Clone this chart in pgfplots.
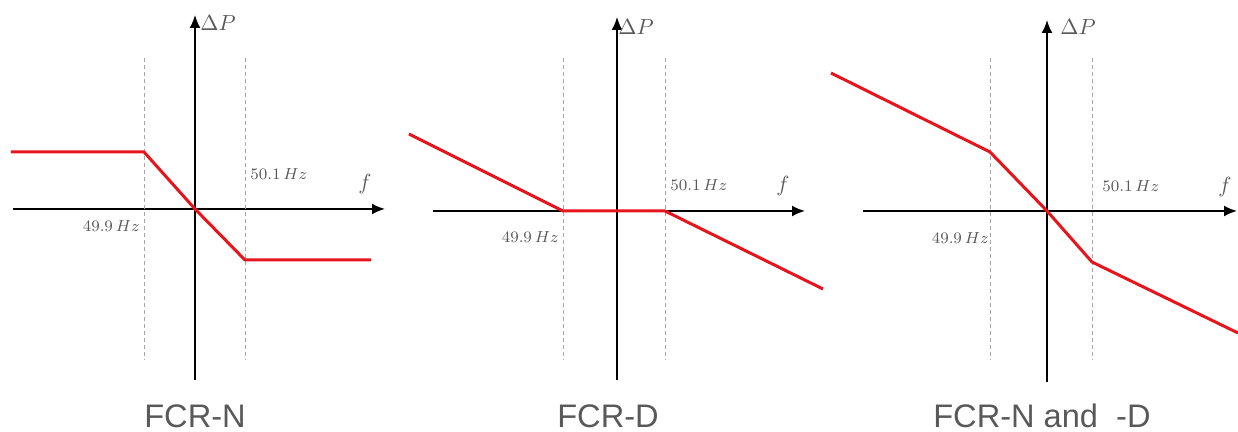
\documentclass[border=0pt]{standalone}
\usepackage{fontspec}
\setmainfont{Liberation Sans}
\usepackage{pgfplots}
\pgfplotsset{compat=1.18}
\usetikzlibrary{arrows.meta}

\definecolor{fcrred}{HTML}{E8141C}
\definecolor{txtgray}{HTML}{595959}
\definecolor{dashgray}{HTML}{A6A6A6}

% one pixel of the reference = 0.5pt; data are pixels relative to the origin
\pgfplotsset{
  fcr/.style={
    x=0.5pt, y=0.5pt,
    axis lines=middle,
    axis line style={line width=0.95pt, -{Latex[length=6.5pt,width=5.5pt]}},
    xtick=\empty, ytick=\empty,
    clip=false,
    anchor=origin,
  },
  band/.style={dashgray, dash pattern=on 2pt off 1.5pt, line width=0.5pt, forget plot},
  resp/.style={fcrred, line width=1.5pt, line join=round},
}
\newcommand{\lbl}{\color{txtgray}\fontsize{7.9}{9}\selectfont}
\newcommand{\axl}{\color{txtgray}\fontsize{11}{13}\selectfont}
\newcommand{\ttl}{\color{txtgray}\fontsize{16.3}{18}\selectfont}

\begin{document}
\begin{tikzpicture}
\useasboundingbox (0,0) rectangle (619pt,216pt);

% FCR-N
\begin{axis}[fcr, at={(97.5pt,111.5pt)}, xmin=-182, xmax=190, ymin=-171, ymax=194]
\addplot[band] coordinates {(-51,151) (-51,-151)};
\addplot[band] coordinates {(50,151) (50,-151)};
\addplot[resp] coordinates {(-184,57) (-51,57) (0,0) (50,-51) (176,-51)};
\node[anchor=east, inner sep=1pt] at (axis cs:-53,-17) {\lbl$49.9\,Hz$};
\node[anchor=west, inner sep=1pt] at (axis cs:53,35) {\lbl$50.1\,Hz$};
\node at (axis cs:170,25) {\axl$f$};
\node at (axis cs:23,186) {\axl$\Delta P$};
\node[anchor=base, inner sep=0pt] at (axis cs:0,-219) {\ttl FCR-N};
\end{axis}

% FCR-D
\begin{axis}[fcr, at={(308.5pt,110.5pt)}, xmin=-184, xmax=188, ymin=-169, ymax=194]
\addplot[band] coordinates {(-54,153) (-54,-149)};
\addplot[band] coordinates {(48,153) (48,-149)};
\addplot[resp] coordinates {(-208,77) (-54,0) (48,0) (206,-78)};
\node[anchor=east, inner sep=1pt] at (axis cs:-56,-26) {\lbl$49.9\,Hz$};
\node[anchor=west, inner sep=1pt] at (axis cs:51,26) {\lbl$50.1\,Hz$};
\node at (axis cs:166,25) {\axl$f$};
\node at (axis cs:19,184) {\axl$\Delta P$};
\node[anchor=base, inner sep=0pt] at (axis cs:-9,-217) {\ttl FCR-D};
\end{axis}

% FCR-N and -D
\begin{axis}[fcr, at={(523.5pt,110.5pt)}, xmin=-184, xmax=190, ymin=-171, ymax=191]
\addplot[band] coordinates {(-57,153) (-57,-149)};
\addplot[band] coordinates {(45,153) (45,-149)};
\addplot[resp] coordinates {(-216,138) (-57,59) (0,0) (45,-51) (191,-122)};
\node[anchor=east, inner sep=1pt] at (axis cs:-56,-27) {\lbl$49.9\,Hz$};
\node[anchor=west, inner sep=1pt] at (axis cs:53,25) {\lbl$50.1\,Hz$};
\node at (axis cs:178,24) {\axl$f$};
\node at (axis cs:31,184) {\axl$\Delta P$};
\node[anchor=base, inner sep=0pt] at (axis cs:-5,-217) {\ttl FCR-N and\ \ -D};
\end{axis}
\end{tikzpicture}
\end{document}
